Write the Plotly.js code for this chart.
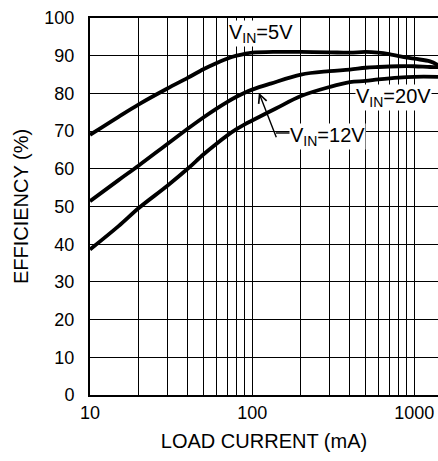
<!DOCTYPE html>
<html>
<head>
<meta charset="utf-8">
<script src="https://cdn.plot.ly/plotly-3.0.1.min.js"></script>
<style>html,body{margin:0;padding:0;background:#fff;}#chart{width:438px;height:461px;}</style>
</head>
<body>
<div id="chart"></div>
<script>
// Load current (mA) and efficiency (%) for each input voltage
const x5V  = [10, 15, 20, 30, 40, 50, 60, 70, 80, 90, 100, 140, 200, 300, 400, 500, 600, 700, 800, 1000, 1250, 1400];
const eff5V = [69, 73.8, 77.1, 81.3, 84.1, 86.4, 88.0, 89.2, 90.0, 90.5, 90.8, 91.0, 91.0, 90.9, 90.8, 91.0, 90.8, 90.4, 89.9, 89.2, 88.5, 87.5];

const x12V  = [10, 15, 20, 30, 40, 50, 60, 70, 80, 90, 100, 130, 200, 300, 400, 500, 600, 800, 1000, 1250, 1400];
const eff12V = [51.4, 57.0, 60.9, 66.6, 70.6, 73.6, 75.9, 77.7, 79.1, 80.2, 81.0, 82.6, 85.0, 85.9, 86.3, 86.8, 87.0, 87.2, 87.2, 87.0, 87.0];

const x20V  = [10, 15, 20, 30, 40, 50, 60, 70, 80, 90, 100, 140, 200, 300, 400, 500, 600, 800, 1000, 1400];
const eff20V = [38.6, 44.8, 49.6, 55.5, 60.0, 63.8, 66.6, 68.8, 70.5, 71.8, 72.8, 76.0, 79.3, 81.7, 83.0, 83.3, 83.7, 84.2, 84.4, 84.4];

const xGrid = [10,20,30,40,50,60,70,80,90,100,200,300,400,500,600,700,800,900,1000];
const xLabels = ['10','','','','','','','','','100','','','','','','','','','1000'];
const yTicks = [0,10,20,30,40,50,60,70,80,90,100];

const lineStyle = {color: '#000', width: 3.8, shape: 'spline', smoothing: 1};
const traces = [
  {x: x5V, y: eff5V, mode: 'lines', line: lineStyle, name: 'VIN=5V', hoverinfo: 'skip'},
  {x: x12V, y: eff12V, mode: 'lines', line: lineStyle, name: 'VIN=12V', hoverinfo: 'skip'},
  {x: x20V, y: eff20V, mode: 'lines', line: lineStyle, name: 'VIN=20V', hoverinfo: 'skip'}
];

const fontFam = '"Liberation Sans", Arial, sans-serif';
const annFont = {size: 20, family: fontFam, color: '#000'};
const layout = {
  width: 438, height: 461,
  margin: {l: 90, r: 0, t: 18, b: 66, pad: 0},
  paper_bgcolor: '#fff', plot_bgcolor: '#fff',
  showlegend: false,
  font: {family: fontFam, color: '#000', size: 18},
  xaxis: {
    type: 'log', range: [1, Math.log10(1400)],
    tickvals: xGrid, ticktext: xLabels,
    showgrid: true, gridcolor: '#000', gridwidth: 1,
    showline: true, linecolor: '#000', linewidth: 2, mirror: true,
    ticks: '', ticklabelstandoff: 0,
    tickfont: {size: 18, family: fontFam, color: '#000'},
    title: {text: 'LOAD CURRENT (mA)', font: {size: 20, family: fontFam, color: '#000'}, standoff: 12},
    automargin: false, zeroline: false
  },
  yaxis: {
    range: [0, 100], tickvals: yTicks,
    showgrid: true, gridcolor: '#000', gridwidth: 1,
    showline: true, linecolor: '#000', linewidth: 2, mirror: true,
    ticks: '', ticklabelstandoff: 10,
    tickfont: {size: 18, family: fontFam, color: '#000'},
    title: {text: 'EFFICIENCY (%)', font: {size: 20, family: fontFam, color: '#000'}, standoff: 10},
    automargin: false, zeroline: false
  },
  annotations: [
    {xref: 'paper', yref: 'paper', x: 0.49, y: 0.96, xanchor: 'center', yanchor: 'middle',
     text: 'V<sub>IN</sub>=5V', showarrow: false, bgcolor: '#fff', borderpad: 0, font: annFont},
    {xref: 'paper', yref: 'paper', x: 0.872, y: 0.788, xanchor: 'center', yanchor: 'middle',
     text: 'V<sub>IN</sub>=20V', showarrow: false, bgcolor: '#fff', borderpad: 0, font: annFont},
    {xref: 'paper', yref: 'paper', x: 0.682, y: 0.685, xanchor: 'center', yanchor: 'middle',
     text: 'V<sub>IN</sub>=12V', showarrow: false, bgcolor: '#fff', borderpad: 0, font: annFont},
    {xref: 'x', yref: 'y', x: Math.log10(110), y: 80.2, text: '', showarrow: true,
     ax: 18, ay: 46, arrowhead: 5, arrowsize: 1.2, arrowwidth: 1.4, arrowcolor: '#000'}
  ],
  shapes: [
    {type: 'line', xref: 'paper', yref: 'paper', x0: 0.534, x1: 0.578, y0: 0.695, y1: 0.695,
     line: {color: '#000', width: 1.4}}
  ]
};

Plotly.newPlot('chart', traces, layout, {staticPlot: true, displayModeBar: false});
</script>
</body>
</html>
